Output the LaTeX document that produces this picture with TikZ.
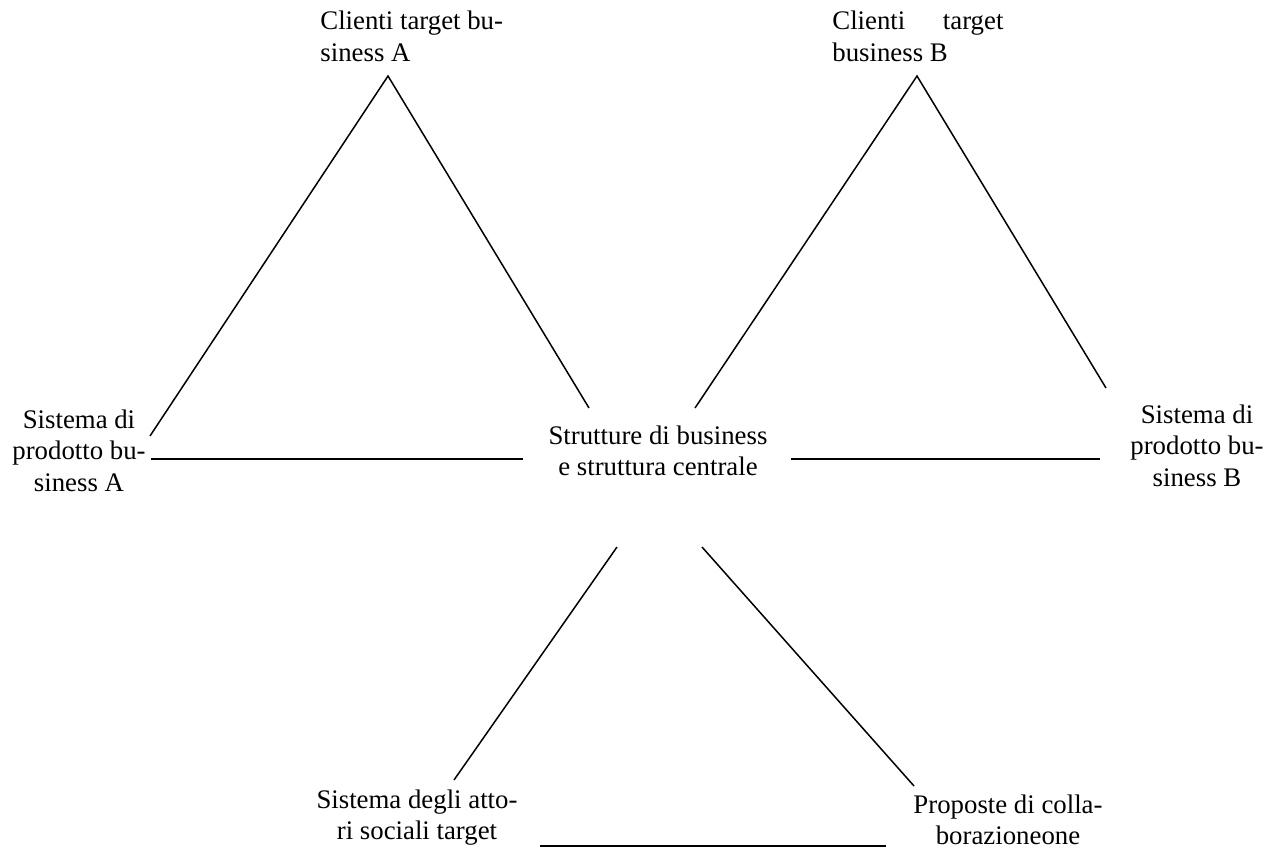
\documentclass[tikz,border=0pt]{standalone}
\usepackage{fontspec}
\setmainfont{Liberation Serif}
\begin{document}
\begin{tikzpicture}[x=0.5pt,y=-0.5pt,
  lbl/.style={inner sep=0pt, font=\fontsize{13.4}{15.75}\selectfont},
  edge/.style={line width=0.75pt, line cap=butt}]
\useasboundingbox (0,0) rectangle (1281,856);

% labels
\node[lbl, anchor=base west] (cliA) at (320,30)
  {\begin{tabular}[t]{@{}l@{}}Clienti target bu-\\siness A\end{tabular}};
\node[lbl, anchor=base west] (cliB) at (832,30)
  {\begin{tabular}[t]{@{}l@{}}\makebox[85.5pt][s]{Clienti\hfill target}\\business B\end{tabular}};
\node[lbl, anchor=base] (sisA) at (79,428)
  {\begin{tabular}[t]{@{}c@{}}Sistema di\\prodotto bu-\\siness A\end{tabular}};
\node[lbl, anchor=base] (sisB) at (1197,423)
  {\begin{tabular}[t]{@{}c@{}}Sistema di\\prodotto bu-\\siness B\end{tabular}};
\node[lbl, anchor=base] (ctr) at (658,444)
  {\begin{tabular}[t]{@{}c@{}}Strutture di business\\e struttura centrale\end{tabular}};
\node[lbl, anchor=base] (att) at (417,808)
  {\begin{tabular}[t]{@{}c@{}}Sistema degli atto-\\ri sociali target\end{tabular}};
\node[lbl, anchor=base] (prop) at (1008,813)
  {\begin{tabular}[t]{@{}c@{}}Proposte di colla-\\borazioneone\end{tabular}};

% line end points
\coordinate (aTop) at (388,76);
\coordinate (aLow) at (150,436);
\coordinate (aMid) at (589,408);
\coordinate (hA1) at (151,459);
\coordinate (hA2) at (523,459);
\coordinate (bTop) at (917,76);
\coordinate (bMid) at (695,408);
\coordinate (bLow) at (1106,388);
\coordinate (hB1) at (791,459);
\coordinate (hB2) at (1100,459);
\coordinate (cL) at (617,547);
\coordinate (dL) at (454,780);
\coordinate (cR) at (702,547);
\coordinate (dR) at (914,786);
\coordinate (e1) at (540,846);
\coordinate (e2) at (886,846);

% connectors
\draw[edge] (aLow) -- (aTop) -- (aMid);
\draw[edge] (hA1) -- (hA2);
\draw[edge] (bMid) -- (bTop) -- (bLow);
\draw[edge] (hB1) -- (hB2);
\draw[edge] (cL) -- (dL);
\draw[edge] (cR) -- (dR);
\draw[edge] (e1) -- (e2);
\end{tikzpicture}
\end{document}
